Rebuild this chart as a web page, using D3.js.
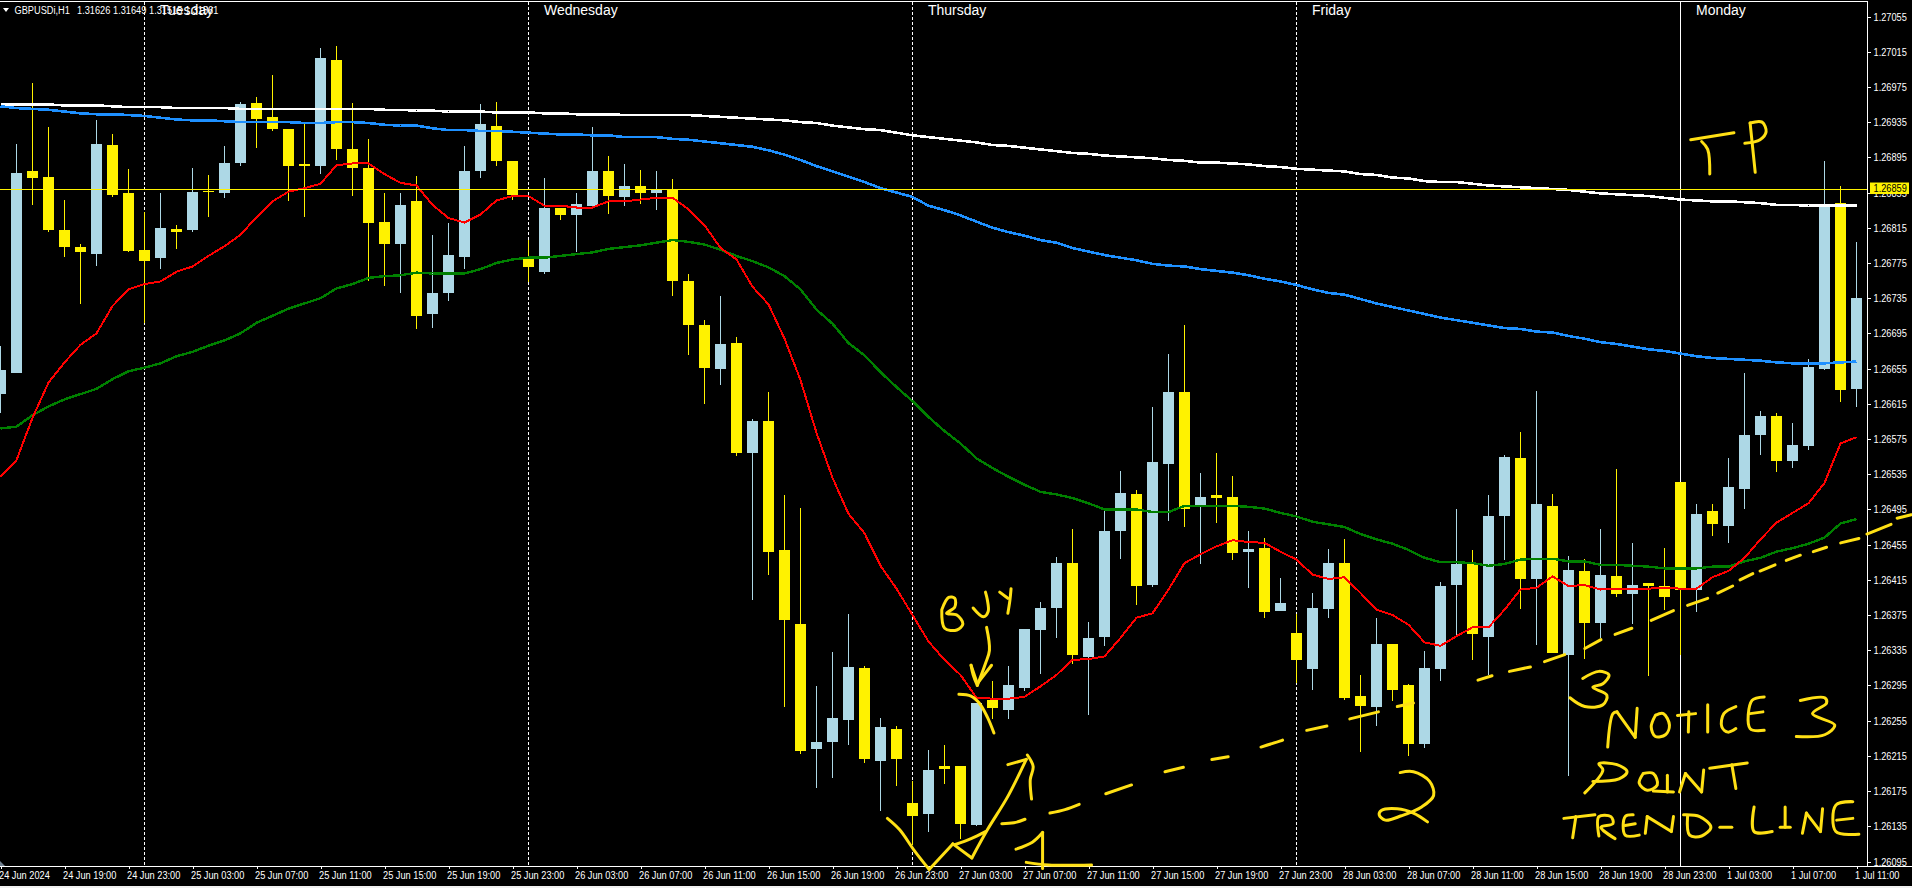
<!DOCTYPE html>
<html><head><meta charset="utf-8">
<style>
html,body{margin:0;padding:0;background:#000;overflow:hidden}
svg{display:block}
.axis text{font-family:"Liberation Sans",sans-serif;font-size:11px;fill:#fff}
.axis line{stroke:#fff;shape-rendering:crispEdges}
.head{font-family:"Liberation Sans",sans-serif;font-size:11px;fill:#fff}
.day{font-family:"Liberation Sans",sans-serif;font-size:14px;fill:#fff}
</style>
<script src="https://cdnjs.cloudflare.com/ajax/libs/d3/7.8.5/d3.min.js"></script>
</head><body>
<svg id="c" width="1912" height="888"></svg>
<script>
const opens=[1.26626,1.26650,1.26879,1.26873,1.26812,1.26793,1.26785,1.26909,1.26855,1.26790,1.26781,1.26814,1.26812,1.26857,1.26855,1.26888,1.26957,1.26941,1.26927,1.26887,1.26885,1.27006,1.26905,1.26883,1.26822,1.26797,1.26845,1.26717,1.26741,1.26782,1.26879,1.26931,1.26891,1.26779,1.26765,1.26838,1.26829,1.26840,1.26880,1.26850,1.26862,1.26855,1.26859,1.26755,1.26705,1.26655,1.26684,1.26559,1.26595,1.26449,1.26365,1.26223,1.26231,1.26256,1.26315,1.26209,1.26246,1.26162,1.26149,1.26203,1.26203,1.26137,1.26279,1.26267,1.26292,1.26358,1.26383,1.26434,1.26327,1.26350,1.26471,1.26513,1.26409,1.26547,1.26628,1.26499,1.26511,1.26509,1.26447,1.26451,1.26380,1.26355,1.26314,1.26382,1.26434,1.26283,1.26271,1.26342,1.26296,1.26229,1.26314,1.26409,1.26434,1.26350,1.26488,1.26553,1.26416,1.26499,1.26330,1.26425,1.26366,1.26419,1.26399,1.26411,1.26408,1.26526,1.26404,1.26493,1.26476,1.26518,1.26579,1.26601,1.26550,1.26567,1.26655,1.26843,1.26632];
const highs=[1.26681,1.26910,1.26979,1.26929,1.26846,1.26796,1.26937,1.26921,1.26882,1.26833,1.26855,1.26818,1.26883,1.26875,1.26908,1.26958,1.26964,1.26989,1.26927,1.26933,1.27019,1.27022,1.26957,1.26916,1.26854,1.26854,1.26874,1.26807,1.26820,1.26908,1.26956,1.26958,1.26891,1.26801,1.26872,1.26838,1.26855,1.26929,1.26896,1.26887,1.26881,1.26879,1.26870,1.26762,1.26710,1.26738,1.26691,1.26598,1.26628,1.26511,1.26497,1.26294,1.26333,1.26376,1.26317,1.26258,1.26249,1.26186,1.26222,1.26227,1.26204,1.26275,1.26300,1.26317,1.26359,1.26390,1.26441,1.26473,1.26367,1.26497,1.26539,1.26517,1.26611,1.26672,1.26705,1.26536,1.26559,1.26533,1.26470,1.26463,1.26417,1.26376,1.26400,1.26450,1.26461,1.26307,1.26372,1.26342,1.26297,1.26334,1.26413,1.26496,1.26449,1.26511,1.26557,1.26583,1.26629,1.26513,1.26442,1.26439,1.26473,1.26541,1.26457,1.26411,1.26451,1.26526,1.26501,1.26501,1.26553,1.26650,1.26607,1.26605,1.26593,1.26666,1.26891,1.26862,1.26799];
const lows=[1.26604,1.26650,1.26841,1.26810,1.26782,1.26728,1.26771,1.26850,1.26787,1.26707,1.26768,1.26791,1.26810,1.26827,1.26849,1.26885,1.26906,1.26925,1.26845,1.26827,1.26876,1.26892,1.26851,1.26754,1.26749,1.26741,1.26700,1.26701,1.26732,1.26768,1.26872,1.26885,1.26847,1.26753,1.26763,1.26824,1.26787,1.26840,1.26831,1.26840,1.26842,1.26835,1.26737,1.26671,1.26615,1.26636,1.26556,1.26392,1.26420,1.26270,1.26217,1.26178,1.26190,1.26227,1.26207,1.26152,1.26181,1.26114,1.26128,1.26183,1.26120,1.26135,1.26257,1.26257,1.26289,1.26308,1.26349,1.26319,1.26262,1.26340,1.26439,1.26386,1.26407,1.26482,1.26475,1.26433,1.26480,1.26438,1.26406,1.26372,1.26380,1.26298,1.26290,1.26372,1.26278,1.26219,1.26249,1.26277,1.26215,1.26224,1.26300,1.26350,1.26324,1.26307,1.26438,1.26382,1.26341,1.26332,1.26192,1.26325,1.26349,1.26396,1.26365,1.26306,1.26381,1.26330,1.26379,1.26465,1.26457,1.26496,1.26557,1.26537,1.26542,1.26563,1.26653,1.26617,1.26611];
const closes=[1.26653,1.26877,1.26871,1.26813,1.26793,1.26787,1.26910,1.26852,1.26789,1.26777,1.26815,1.26810,1.26856,1.26856,1.26888,1.26956,1.26939,1.26927,1.26885,1.26885,1.27008,1.26905,1.26883,1.26820,1.26796,1.26841,1.26715,1.26741,1.26784,1.26879,1.26933,1.26891,1.26852,1.26770,1.26837,1.26830,1.26842,1.26879,1.26851,1.26862,1.26854,1.26859,1.26755,1.26705,1.26656,1.26683,1.26559,1.26596,1.26447,1.26369,1.26221,1.26231,1.26258,1.26316,1.26211,1.26248,1.26211,1.26147,1.26199,1.26200,1.26138,1.26275,1.26269,1.26295,1.26359,1.26383,1.26434,1.26330,1.26349,1.26470,1.26514,1.26408,1.26549,1.26628,1.26496,1.26509,1.26508,1.26446,1.26450,1.26379,1.26389,1.26324,1.26383,1.26434,1.26281,1.26272,1.26342,1.26290,1.26228,1.26315,1.26408,1.26433,1.26353,1.26488,1.26554,1.26416,1.26501,1.26332,1.26426,1.26366,1.26420,1.26399,1.26409,1.26408,1.26396,1.26403,1.26490,1.26478,1.26521,1.26579,1.26601,1.26550,1.26568,1.26657,1.26842,1.26631,1.26735];

const maWhite=[1.26955,1.26955,1.26955,1.26955,1.26954,1.26954,1.26954,1.26953,1.26952,1.26952,1.26952,1.26951,1.26951,1.26951,1.26951,1.26950,1.26950,1.26950,1.26950,1.26950,1.26950,1.26950,1.26950,1.26950,1.26949,1.26949,1.26948,1.26948,1.26947,1.26947,1.26947,1.26946,1.26946,1.26946,1.26945,1.26945,1.26944,1.26944,1.26944,1.26943,1.26943,1.26943,1.26943,1.26943,1.26942,1.26941,1.26940,1.26939,1.26938,1.26937,1.26935,1.26934,1.26931,1.26929,1.26927,1.26926,1.26923,1.26920,1.26918,1.26916,1.26914,1.26912,1.26909,1.26908,1.26906,1.26904,1.26902,1.26900,1.26899,1.26897,1.26896,1.26895,1.26894,1.26892,1.26891,1.26889,1.26889,1.26888,1.26887,1.26885,1.26884,1.26882,1.26881,1.26880,1.26879,1.26876,1.26875,1.26872,1.26871,1.26868,1.26867,1.26867,1.26865,1.26863,1.26862,1.26861,1.26860,1.26859,1.26858,1.26856,1.26854,1.26853,1.26852,1.26851,1.26849,1.26847,1.26846,1.26845,1.26845,1.26844,1.26843,1.26841,1.26841,1.26840,1.26840,1.26840,1.26840];
const maBlue=[1.26953,1.26951,1.26950,1.26949,1.26947,1.26945,1.26944,1.26944,1.26943,1.26942,1.26940,1.26938,1.26937,1.26937,1.26936,1.26935,1.26935,1.26935,1.26935,1.26934,1.26934,1.26935,1.26935,1.26934,1.26932,1.26931,1.26931,1.26928,1.26926,1.26926,1.26925,1.26925,1.26924,1.26923,1.26922,1.26921,1.26921,1.26920,1.26920,1.26918,1.26918,1.26918,1.26916,1.26915,1.26913,1.26911,1.26909,1.26907,1.26903,1.26898,1.26892,1.26885,1.26879,1.26873,1.26867,1.26860,1.26855,1.26850,1.26840,1.26835,1.26829,1.26822,1.26815,1.26810,1.26806,1.26801,1.26798,1.26792,1.26788,1.26784,1.26781,1.26778,1.26774,1.26772,1.26771,1.26768,1.26766,1.26764,1.26761,1.26757,1.26754,1.26750,1.26745,1.26741,1.26739,1.26734,1.26729,1.26725,1.26721,1.26717,1.26713,1.26710,1.26707,1.26704,1.26701,1.26700,1.26697,1.26696,1.26692,1.26689,1.26685,1.26683,1.26680,1.26677,1.26675,1.26672,1.26669,1.26667,1.26666,1.26665,1.26664,1.26662,1.26661,1.26661,1.26661,1.26662,1.26663];
const maGreen=[1.26587,1.26589,1.26602,1.26612,1.26620,1.26626,1.26632,1.26643,1.26652,1.26656,1.26661,1.26669,1.26674,1.26681,1.26687,1.26695,1.26707,1.26715,1.26723,1.26729,1.26735,1.26746,1.26751,1.26758,1.26760,1.26761,1.26764,1.26763,1.26763,1.26763,1.26768,1.26775,1.26779,1.26781,1.26781,1.26783,1.26785,1.26787,1.26791,1.26793,1.26795,1.26798,1.26801,1.26799,1.26796,1.26790,1.26783,1.26777,1.26770,1.26760,1.26745,1.26722,1.26706,1.26684,1.26670,1.26651,1.26634,1.26618,1.26600,1.26584,1.26570,1.26553,1.26542,1.26532,1.26523,1.26515,1.26512,1.26508,1.26502,1.26495,1.26495,1.26495,1.26492,1.26492,1.26499,1.26499,1.26499,1.26499,1.26498,1.26496,1.26491,1.26487,1.26481,1.26478,1.26475,1.26467,1.26461,1.26456,1.26449,1.26440,1.26435,1.26435,1.26434,1.26431,1.26433,1.26438,1.26439,1.26439,1.26436,1.26436,1.26432,1.26432,1.26431,1.26430,1.26428,1.26428,1.26428,1.26430,1.26430,1.26436,1.26440,1.26447,1.26451,1.26456,1.26463,1.26479,1.26484];
const maRed=[1.26532,1.26551,1.26599,1.26639,1.26662,1.26682,1.26695,1.26726,1.26745,1.26751,1.26754,1.26765,1.26771,1.26783,1.26794,1.26807,1.26827,1.26845,1.26856,1.26860,1.26865,1.26886,1.26888,1.26888,1.26876,1.26866,1.26863,1.26841,1.26826,1.26821,1.26830,1.26846,1.26851,1.26851,1.26840,1.26840,1.26838,1.26838,1.26845,1.26845,1.26847,1.26849,1.26849,1.26836,1.26818,1.26792,1.26779,1.26748,1.26728,1.26689,1.26642,1.26582,1.26531,1.26490,1.26468,1.26431,1.26405,1.26375,1.26345,1.26324,1.26307,1.26281,1.26280,1.26280,1.26282,1.26294,1.26307,1.26324,1.26325,1.26328,1.26349,1.26372,1.26377,1.26404,1.26434,1.26444,1.26453,1.26460,1.26458,1.26457,1.26447,1.26438,1.26421,1.26416,1.26418,1.26400,1.26381,1.26375,1.26364,1.26344,1.26340,1.26351,1.26361,1.26361,1.26381,1.26404,1.26406,1.26419,1.26408,1.26409,1.26404,1.26405,1.26405,1.26405,1.26406,1.26405,1.26405,1.26418,1.26425,1.26440,1.26461,1.26480,1.26491,1.26502,1.26525,1.26570,1.26577];

const priceTicks=[1.27055,1.27015,1.26975,1.26935,1.26895,1.26855,1.26815,1.26775,1.26735,1.26695,1.26655,1.26615,1.26575,1.26535,1.26495,1.26455,1.26415,1.26375,1.26335,1.26295,1.26255,1.26215,1.26175,1.26135,1.26095];
const timeLabels=["24 Jun 2024","24 Jun 19:00","24 Jun 23:00","25 Jun 03:00","25 Jun 07:00","25 Jun 11:00","25 Jun 15:00","25 Jun 19:00","25 Jun 23:00","26 Jun 03:00","26 Jun 07:00","26 Jun 11:00","26 Jun 15:00","26 Jun 19:00","26 Jun 23:00","27 Jun 03:00","27 Jun 07:00","27 Jun 11:00","27 Jun 15:00","27 Jun 19:00","27 Jun 23:00","28 Jun 03:00","28 Jun 07:00","28 Jun 11:00","28 Jun 15:00","28 Jun 19:00","28 Jun 23:00","1 Jul 03:00","1 Jul 07:00","1 Jul 11:00"];
const timeLabelStep=4;
const dayNames=["Tuesday","Wednesday","Thursday","Friday","Monday"];
const dayBars=[9,33,57,81,105];
const headerTexts=["GBPUSDi,H1","1.31626","1.31649","1.31515","1.31561"];
const targetPrice=1.26859;

// Hand-drawn annotation strokes as [bar, price]
const strokes=[
[[55.43,1.26144],[56.20,1.26131],[57.09,1.26108],[58.04,1.26086]],
[[58.04,1.26086],[59.52,1.26115]],
[[59.52,1.26115],[60.71,1.26099]],
[[60.71,1.26099],[61.68,1.26131],[62.96,1.26169],[64.11,1.26211]],
[[62.96,1.26205],[64.11,1.26211]],
[[64.44,1.26166],[64.36,1.26188],[64.54,1.26203],[64.18,1.26216]],
[[59.64,1.26114],[60.66,1.26121],[61.56,1.26129]],
[[63.47,1.26109],[64.49,1.26117],[65.13,1.26128]],
[[65.13,1.26128],[65.13,1.26087]],
[[64.11,1.26094],[65.51,1.26091],[68.19,1.26091]],
[[62.58,1.26138],[63.34,1.26139],[64.03,1.26143]],
[[65.59,1.26150],[66.53,1.26154],[67.42,1.26160]],
[[69.08,1.26172],[70.69,1.26182]],
[[72.78,1.26197],[73.93,1.26202]],
[[75.71,1.26211],[76.73,1.26214]],
[[78.78,1.26225],[80.00,1.26232],[80.13,1.26233]],
[[81.64,1.26244],[82.90,1.26249]],
[[84.33,1.26257],[86.12,1.26265]],
[[87.30,1.26271],[88.31,1.26275]],
[[92.34,1.26301],[93.22,1.26306]],
[[94.31,1.26311],[95.62,1.26316]],
[[96.50,1.26322],[97.76,1.26330]],
[[99.02,1.26337],[100.03,1.26347]],
[[100.91,1.26353],[101.96,1.26360]],
[[103.17,1.26369],[104.56,1.26380]],
[[105.44,1.26386],[106.70,1.26394]],
[[107.33,1.26400],[108.26,1.26408]],
[[108.72,1.26415],[109.52,1.26422]],
[[109.97,1.26425],[110.91,1.26432]],
[[111.61,1.26437],[112.49,1.26443]],
[[113.30,1.26447],[114.13,1.26452]],
[[115.01,1.26457],[116.15,1.26462]],
[[116.65,1.26467],[118.16,1.26478]],
[[118.54,1.26485],[119.42,1.26489]],
// BUY
[[58.83,1.26381],[59.01,1.26360],[59.77,1.26358],[60.15,1.26365],[59.77,1.26375],[59.13,1.26377],[59.64,1.26384],[59.64,1.26394],[59.26,1.26395],[58.83,1.26381]],
[[60.79,1.26383],[61.43,1.26373],[61.73,1.26379],[61.68,1.26392],[61.56,1.26401]],
[[62.45,1.26401],[62.96,1.26394]],
[[63.16,1.26405],[63.09,1.26392],[62.96,1.26377]],
[[61.63,1.26361],[61.81,1.26335],[61.56,1.26320],[61.05,1.26295]],
[[60.66,1.26318],[61.05,1.26297]],
[[61.05,1.26297],[61.94,1.26318]],
[[60.66,1.26318],[60.79,1.26307],[61.05,1.26295]],
[[59.90,1.26285],[60.66,1.26283],[61.17,1.26275],[61.68,1.26259],[62.09,1.26241]],
// 2
[[87.48,1.26196],[88.31,1.26197],[89.32,1.26186],[89.57,1.26170],[88.82,1.26157],[87.56,1.26147],[86.55,1.26142],[86.17,1.26148],[86.30,1.26153],[87.30,1.26155],[88.31,1.26150],[89.19,1.26140]],
// 3
[[98.89,1.26303],[99.90,1.26311],[100.53,1.26307],[100.15,1.26297],[99.52,1.26293],[100.40,1.26284],[100.15,1.26273],[99.02,1.26271],[98.09,1.26281]],
// NOTICE 3
[[100.45,1.26225],[100.78,1.26263],[101.03,1.26265]],
[[101.03,1.26265],[102.17,1.26236]],
[[102.17,1.26236],[102.29,1.26269]],
[[103.43,1.26261],[103.17,1.26248],[103.43,1.26237],[104.06,1.26239],[104.31,1.26250],[103.93,1.26263],[103.43,1.26261]],
[[105.49,1.26242],[105.52,1.26265]],
[[104.81,1.26261],[105.94,1.26263]],
[[106.70,1.26242],[106.70,1.26273]],
[[108.46,1.26271],[107.71,1.26263],[107.58,1.26248],[107.96,1.26242],[108.46,1.26246]],
[[110.23,1.26282],[109.47,1.26278],[109.35,1.26246],[110.23,1.26244]],
[[109.35,1.26263],[110.15,1.26265]],
[[112.49,1.26278],[114.01,1.26281],[114.13,1.26275],[113.25,1.26263],[114.64,1.26250],[114.01,1.26239],[112.24,1.26237]],
// POINT
[[99.02,1.26173],[100.15,1.26199],[99.90,1.26206],[101.03,1.26205],[101.66,1.26197],[101.16,1.26189],[99.52,1.26186]],
[[102.67,1.26195],[102.42,1.26184],[102.92,1.26176],[103.55,1.26182],[103.30,1.26195],[102.67,1.26195]],
[[103.30,1.26175],[104.56,1.26174]],
[[104.18,1.26174],[104.18,1.26193]],
[[104.94,1.26174],[105.31,1.26195]],
[[105.31,1.26195],[106.32,1.26174]],
[[106.32,1.26174],[106.45,1.26199]],
[[106.83,1.26201],[109.17,1.26207]],
[[108.21,1.26205],[108.46,1.26178]],
// TREND-LINE
[[97.71,1.26144],[99.65,1.26148]],
[[98.46,1.26146],[98.26,1.26122]],
[[99.90,1.26124],[99.90,1.26146],[100.65,1.26146],[100.78,1.26138],[100.03,1.26134],[100.91,1.26121]],
[[102.04,1.26148],[101.54,1.26146],[101.54,1.26125],[102.42,1.26125]],
[[101.54,1.26136],[102.17,1.26138]],
[[102.80,1.26127],[102.92,1.26146]],
[[102.92,1.26146],[104.43,1.26129]],
[[104.43,1.26129],[104.56,1.26146]],
[[105.44,1.26146],[105.57,1.26125],[106.32,1.26124],[106.90,1.26134],[106.20,1.26146],[105.19,1.26148]],
[[107.46,1.26134],[108.21,1.26134]],
[[109.60,1.26157],[109.60,1.26129],[110.73,1.26129]],
[[111.54,1.26157],[111.54,1.26134]],
[[111.23,1.26134],[111.86,1.26134]],
[[112.62,1.26127],[112.87,1.26150]],
[[112.87,1.26150],[113.75,1.26129]],
[[113.75,1.26129],[113.88,1.26155]],
[[115.77,1.26163],[114.71,1.26159],[114.71,1.26129],[116.15,1.26126]],
[[114.76,1.26142],[115.77,1.26144]],
// TP
[[105.64,1.26915],[108.34,1.26923]],
[[106.32,1.26913],[106.70,1.26904],[106.83,1.26876]],
[[109.35,1.26934],[109.67,1.26878]],
[[109.35,1.26934],[110.10,1.26935],[110.35,1.26924],[109.97,1.26915],[109.02,1.26911]]
];

const W=1912,H=888,plotR=1868,plotB=866,narrow=0.84;
const svg=d3.select("#c");
const x=d3.scaleLinear().domain([0,116]).range([0.5,1856.5]);
const y=d3.scaleLinear().domain([1.27055,1.26095]).range([16.5,861.5]);
const bars=d3.range(opens.length);
const YEL="#fff200",BLU="#add8e6";

svg.append("rect").attr("width",W).attr("height",H).attr("fill","#000");
svg.append("rect").attr("x",0).attr("y",886).attr("width",W).attr("height",2).attr("fill","#f0f0f0");

// day separators
const seps=svg.append("g").attr("shape-rendering","crispEdges");
seps.selectAll("line").data(dayBars).join("line")
 .attr("x1",d=>x(d)).attr("x2",d=>x(d)).attr("y1",2).attr("y2",plotB)
 .attr("stroke","#fff").attr("stroke-width",1)
 .attr("stroke-dasharray",(d,i)=>i===dayBars.length-1?null:"3,2");

// candles
const cg=svg.append("g").attr("shape-rendering","crispEdges");
const col=i=>closes[i]>=opens[i]?BLU:YEL;
cg.selectAll("line.w").data(bars).join("line").attr("class","w")
 .attr("x1",x).attr("x2",x).attr("y1",i=>y(highs[i])).attr("y2",i=>y(lows[i]))
 .attr("stroke",col).attr("stroke-width",1);
const cw=Math.round((x(1)-x(0))*0.6875);
cg.selectAll("rect").data(bars).join("rect")
 .attr("x",i=>x(i)-cw/2).attr("width",cw)
 .attr("y",i=>y(Math.max(opens[i],closes[i])))
 .attr("height",i=>Math.max(1.5,Math.abs(y(opens[i])-y(closes[i]))))
 .attr("fill",col);

// moving averages
const line=d3.line().x((d,i)=>x(i)).y(d=>y(d));
[[maWhite,"#fff",2.6],[maBlue,"#1e90ff",2.6],[maGreen,"#008000",2.4],[maRed,"#ff0000",2]].forEach(([s,c,w])=>{
 svg.append("path").attr("d",line(s)).attr("fill","none").attr("stroke",c).attr("stroke-width",w).attr("shape-rendering","crispEdges");
});

// target line
svg.append("line").attr("x1",0).attr("x2",plotR).attr("y1",y(targetPrice)).attr("y2",y(targetPrice))
 .attr("stroke",YEL).attr("stroke-width",1).attr("shape-rendering","crispEdges");

// frame
const fr=svg.append("g").attr("stroke","#fff").attr("shape-rendering","crispEdges");
fr.append("line").attr("x1",0).attr("x2",plotR).attr("y1",1.5).attr("y2",1.5);
fr.append("line").attr("x1",0).attr("x2",W).attr("y1",plotB+.5).attr("y2",plotB+.5);
fr.append("line").attr("x1",plotR-.5).attr("x2",plotR-.5).attr("y1",1).attr("y2",plotB);
svg.append("path").attr("d",d3.line()([[0,861],[5,866],[0,866]])).attr("fill","#708090");

// axes
const ax=svg.append("g").attr("class","axis").attr("transform",`translate(${plotR-.5},0)`)
 .call(d3.axisRight(y).tickValues(priceTicks).tickFormat(d3.format(".5f")).tickSize(3));
ax.select(".domain").remove();
ax.selectAll("text").attr("x",0).attr("transform",`translate(6,0) scale(${narrow},1)`);
const bx=svg.append("g").attr("class","axis").attr("transform",`translate(0,${plotB})`)
 .call(d3.axisBottom(x).tickValues(timeLabels.map((d,i)=>i*timeLabelStep)).tickFormat((d,i)=>timeLabels[i]).tickSize(3).tickPadding(2));
bx.select(".domain").remove();
bx.selectAll("text").attr("text-anchor","start").attr("x",0).attr("transform",`translate(-2,0) scale(${narrow},1)`);

// day labels
svg.append("g").selectAll("text").data(dayNames).join("text").attr("class","day")
 .attr("x",(d,i)=>x(dayBars[i])+15.5).attr("y",15).text(d=>d);

// header
svg.append("path").attr("d",d3.line()([[3,8],[9,8],[6,12]])).attr("fill","#fff");
const hx=[14.5,77,113,149,185];
svg.append("g").selectAll("text").data(headerTexts).join("text").attr("class","head")
 .attr("transform",(d,i)=>`translate(${hx[i]},14) scale(${narrow},1)`).text(d=>d);

// current price box
const bg=svg.append("g");
bg.append("rect").attr("x",plotR+2).attr("y",y(targetPrice)-6.5).attr("width",39).attr("height",11.5).attr("fill",YEL);
bg.append("text").attr("class","head").attr("transform",`translate(${plotR+5.5},${y(targetPrice)+3}) scale(${narrow},1)`).style("fill","#000").text(d3.format(".5f")(targetPrice));

// annotations
const hand=d3.line().x(d=>x(d[0])).y(d=>y(d[1])).curve(d3.curveCatmullRom.alpha(.5));
svg.append("g").selectAll("path").data(strokes).join("path").attr("d",hand)
 .attr("fill","none").attr("stroke","#ffe014").attr("stroke-width",3).attr("stroke-linecap","round").attr("stroke-linejoin","round");
</script>
</body></html>
